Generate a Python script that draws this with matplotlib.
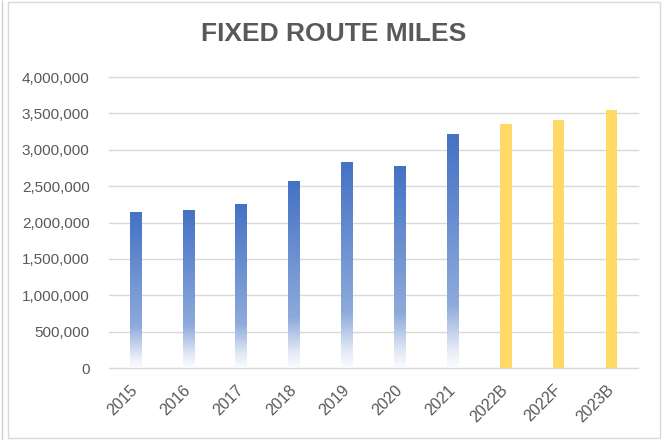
import numpy as np
import matplotlib
matplotlib.use("Agg")
import matplotlib.pyplot as plt
from matplotlib.colors import LinearSegmentedColormap
from matplotlib.ticker import FuncFormatter
from matplotlib.patches import Rectangle

plt.rcParams['font.family'] = ['Liberation Sans', 'DejaVu Sans']

# data
years = ['2015', '2016', '2017', '2018', '2019', '2020', '2021', '2022B', '2022F', '2023B']
miles = [2140000, 2160000, 2250000, 2560000, 2820000, 2770000, 3210000, 3360000, 3410000, 3540000]
is_budget = [False, False, False, False, False, False, False, True, True, True]

grey = '#595959'
bar_w = 0.22

fig = plt.figure(figsize=(6.64, 4.40), dpi=100)
fig.patches.append(Rectangle((8 / 664, 2 / 440), 652 / 664, 436 / 440, transform=fig.transFigure,
                             fill=False, edgecolor='#d9d9d9', linewidth=1))
fig.patches.append(Rectangle((1.5 / 664, 0), 0.5 / 664, 1, transform=fig.transFigure,
                             fill=False, edgecolor='#d0d0d0', linewidth=1))

ax = fig.add_axes([109 / 664, (440 - 368) / 440, 529 / 664, 291 / 440])

# gradient used for the actual years (blue fading to white at the bottom)
blue_fade = LinearSegmentedColormap.from_list(
    'fade', [(0, '#fbfcfe'), (0.08, '#e4eaf6'), (0.27, '#8eaadb'), (1, '#4472c4')])
grad = np.linspace(0, 1, 256).reshape(-1, 1)

x = np.arange(len(years))
for xi, val, bud in zip(x, miles, is_budget):
    if bud:
        ax.bar(xi, val, width=bar_w, color='#ffd966', zorder=2)
    else:
        ax.imshow(grad, extent=[xi - bar_w / 2, xi + bar_w / 2, 0, val], origin='lower',
                  aspect='auto', cmap=blue_fade, zorder=2, interpolation='bilinear')

ax.set_xlim(-0.5, len(years) - 0.5)
ax.set_ylim(0, 4000000)
ax.set_yticks(np.arange(0, 4000001, 500000))
ax.yaxis.set_major_formatter(FuncFormatter(lambda v, p: f'{int(v):,}'))
ax.set_xticks(x)
ax.set_xticklabels(years, rotation=45, ha='right', va='center', rotation_mode='anchor')

ax.grid(axis='y', color='#d9d9d9', linewidth=1)
for gl in ax.get_ygridlines():
    gl.set_clip_on(False)
ax.set_axisbelow(True)
for s in ['top', 'right', 'left']:
    ax.spines[s].set_visible(False)
ax.spines['bottom'].set_color('#d9d9d9')
ax.tick_params(axis='y', length=0, labelsize=11, colors=grey, pad=14)
ax.tick_params(axis='x', length=0, labelsize=11.5, colors=grey, pad=14)

fig.text(334 / 664, 1 - 34 / 440, 'FIXED ROUTE MILES', ha='center', va='center',
         fontsize=19, fontweight='bold', color=grey)

fig.savefig('out.png', dpi=100)
